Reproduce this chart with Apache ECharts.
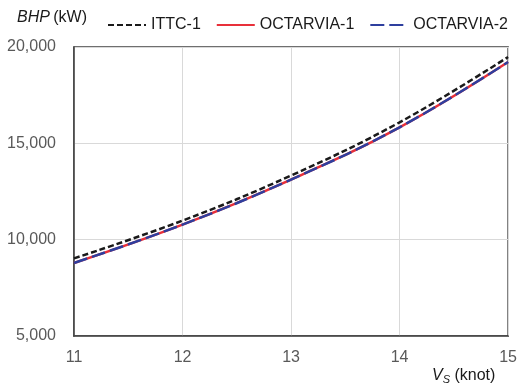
<!DOCTYPE html>
<html><head><meta charset="utf-8">
<script src="https://cdn.jsdelivr.net/npm/echarts@6/dist/echarts.min.js"></script>
<style>html,body{margin:0;padding:0;background:#fff}#c{width:520px;height:385px}</style>
</head><body><div id="c"></div>
<script>
const speeds = [11, 12, 13, 14, 15];
const ittc1 = [9030, 10990, 13330, 16090, 19480];
const octarvia1 = [8790, 10780, 13120, 15830, 19220];
const octarvia2 = [8790, 10780, 13120, 15830, 19220];
const yTicks = [5000, 10000, 15000, 20000];

const chart = echarts.init(document.getElementById('c'), null, {renderer: 'canvas'});
const font = '"Liberation Sans", Arial, sans-serif';
const toPairs = arr => speeds.map((s, i) => [s, arr[i]]);
chart.setOption({
  animation: false,
  textStyle: {fontFamily: font},
  grid: {left: 74, right: 6, top: 47, bottom: 49, show: true, borderColor: '#404040', borderWidth: 1.5, containLabel: false},
  legend: {
    top: 12, left: 102, itemWidth: 38, itemHeight: 14, itemGap: 15,
    itemStyle: {opacity: 0},
    textStyle: {fontSize: 16, color: '#1a1a1a', fontFamily: font},
    data: ['ITTC-1', 'OCTARVIA-1', 'OCTARVIA-2']
  },
  xAxis: {
    type: 'value', min: 11, max: 15, interval: 1,
    axisLine: {show: true, lineStyle: {color: '#404040', width: 1.5}},
    axisTick: {show: false},
    splitLine: {show: true, lineStyle: {color: '#d9d9d9', width: 1}},
    axisLabel: {fontSize: 16, color: '#595959', margin: 14, fontFamily: font}
  },
  yAxis: {
    type: 'value', min: yTicks[0], max: yTicks[yTicks.length - 1], interval: 5000,
    axisLine: {show: true, lineStyle: {color: '#404040', width: 1.5}},
    axisTick: {show: false},
    splitLine: {show: true, lineStyle: {color: '#d9d9d9', width: 1}},
    axisLabel: {fontSize: 16, color: '#595959', margin: 18, fontFamily: font,
      formatter: v => v.toLocaleString('en-US')}
  },
  graphic: [
    {type: 'text', left: 17, top: 10, style: {
      rich: {i: {fontStyle: 'italic', fontSize: 16, fill: '#1a1a1a', fontFamily: font},
             n: {fontSize: 16, fill: '#1a1a1a', fontFamily: font}},
      text: '{i|BHP} {n|(kW)}'}},
    {type: 'text', left: 432, top: 368, style: {
      rich: {i: {fontStyle: 'italic', fontSize: 16, fill: '#1a1a1a', fontFamily: font},
             s: {fontStyle: 'italic', fontSize: 11, fill: '#1a1a1a', fontFamily: font, verticalAlign: 'bottom', padding: [8, 0, 0, 0]},
             n: {fontSize: 16, fill: '#1a1a1a', fontFamily: font}},
      text: '{i|V}{s|S}{n| (knot)}'}}
  ],
  series: [
    {name: 'ITTC-1', type: 'line', smooth: 0.4, symbol: 'none', data: toPairs(ittc1), z: 3,
     lineStyle: {color: '#1a1a1a', width: 2.5, type: [6, 3]}, itemStyle: {color: '#1a1a1a'}},
    {name: 'OCTARVIA-1', type: 'line', smooth: 0.4, symbol: 'none', data: toPairs(octarvia1), z: 2,
     lineStyle: {color: '#e8303a', width: 2.5, type: 'solid'}, itemStyle: {color: '#e8303a'}},
    {name: 'OCTARVIA-2', type: 'line', smooth: 0.4, symbol: 'none', data: toPairs(octarvia2), z: 4,
     lineStyle: {color: '#2e3f9e', width: 2.5, type: [14, 5]}, itemStyle: {color: '#2e3f9e'}}
  ]
});
</script></body></html>
